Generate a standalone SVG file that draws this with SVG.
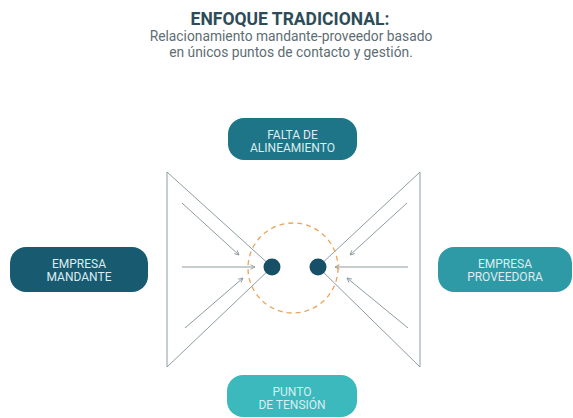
<svg xmlns="http://www.w3.org/2000/svg" width="573" height="418" viewBox="0 0 573 418">
<style>
.t{font-family:"Roboto","Liberation Sans",sans-serif;text-anchor:middle}
.title{font-size:17.5px;font-weight:bold;fill:#2d4c58}
.sub{font-size:13.8px;fill:#5d6d73}
.nt{font-size:12px;fill:#dcedf0}
.ln{stroke:#8d9ca2;stroke-width:1;fill:none}
.ar{stroke:#8d9ca2;stroke-width:1;fill:none;marker-end:url(#ah)}
</style>
<defs>
<marker id="ah" viewBox="0 0 8 8" refX="7" refY="4" markerWidth="6" markerHeight="6" orient="auto" markerUnits="userSpaceOnUse">
<path d="M1,1 L7,4 L1,7" fill="none" stroke="#8d9ca2" stroke-width="1.2"/>
</marker>
</defs>
<rect width="573" height="418" fill="#ffffff"/>
<g id="header">
<text class="t title" x="290" y="25">ENFOQUE TRADICIONAL:</text>
<text class="t sub" x="291" y="40.5">Relacionamiento mandante-proveedor basado</text>
<text class="t sub" x="291" y="56.5">en únicos puntos de contacto y gestión.</text>
</g>
<g id="connectors">
<polyline class="ln" points="272,267 167,172 167,367 272,267"/>
<polyline class="ln" points="318,267 420,172 420,367 318,267"/>
<line class="ar" x1="182" y1="203" x2="239" y2="255"/>
<line class="ar" x1="182" y1="267" x2="255" y2="267"/>
<line class="ar" x1="185" y1="328" x2="243" y2="278"/>
<line class="ar" x1="407" y1="203" x2="350" y2="255"/>
<line class="ar" x1="408" y1="267" x2="335" y2="267"/>
<line class="ar" x1="408" y1="328" x2="347" y2="278"/>
</g>
<g id="tension-zone">
<circle cx="293" cy="268" r="45" fill="none" stroke="#eaa45a" stroke-width="1.3" stroke-dasharray="5,4"/>
<circle cx="272" cy="267" r="8.5" fill="#174f66"/>
<circle cx="318" cy="267" r="8.5" fill="#174f66"/>
</g>
<g id="falta">
<rect x="228" y="118" width="129" height="42" rx="16" fill="#1e7588"/>
<text class="t nt" x="292.5" y="139">FALTA DE</text>
<text class="t nt" x="292.5" y="152">ALINEAMIENTO</text>
</g>
<g id="mandante">
<rect x="10" y="247" width="138" height="45" rx="16" fill="#185a70"/>
<text class="t nt" x="79" y="268">EMPRESA</text>
<text class="t nt" x="79" y="281">MANDANTE</text>
</g>
<g id="proveedora">
<rect x="438" y="247" width="134" height="45" rx="16" fill="#2e9aa6"/>
<text class="t nt" x="505" y="268">EMPRESA</text>
<text class="t nt" x="505" y="281">PROVEEDORA</text>
</g>
<g id="punto">
<rect x="227" y="375" width="130" height="42" rx="16" fill="#3bb9bd"/>
<text class="t nt" x="292" y="396">PUNTO</text>
<text class="t nt" x="292" y="409">DE TENSIÓN</text>
</g>
</svg>
